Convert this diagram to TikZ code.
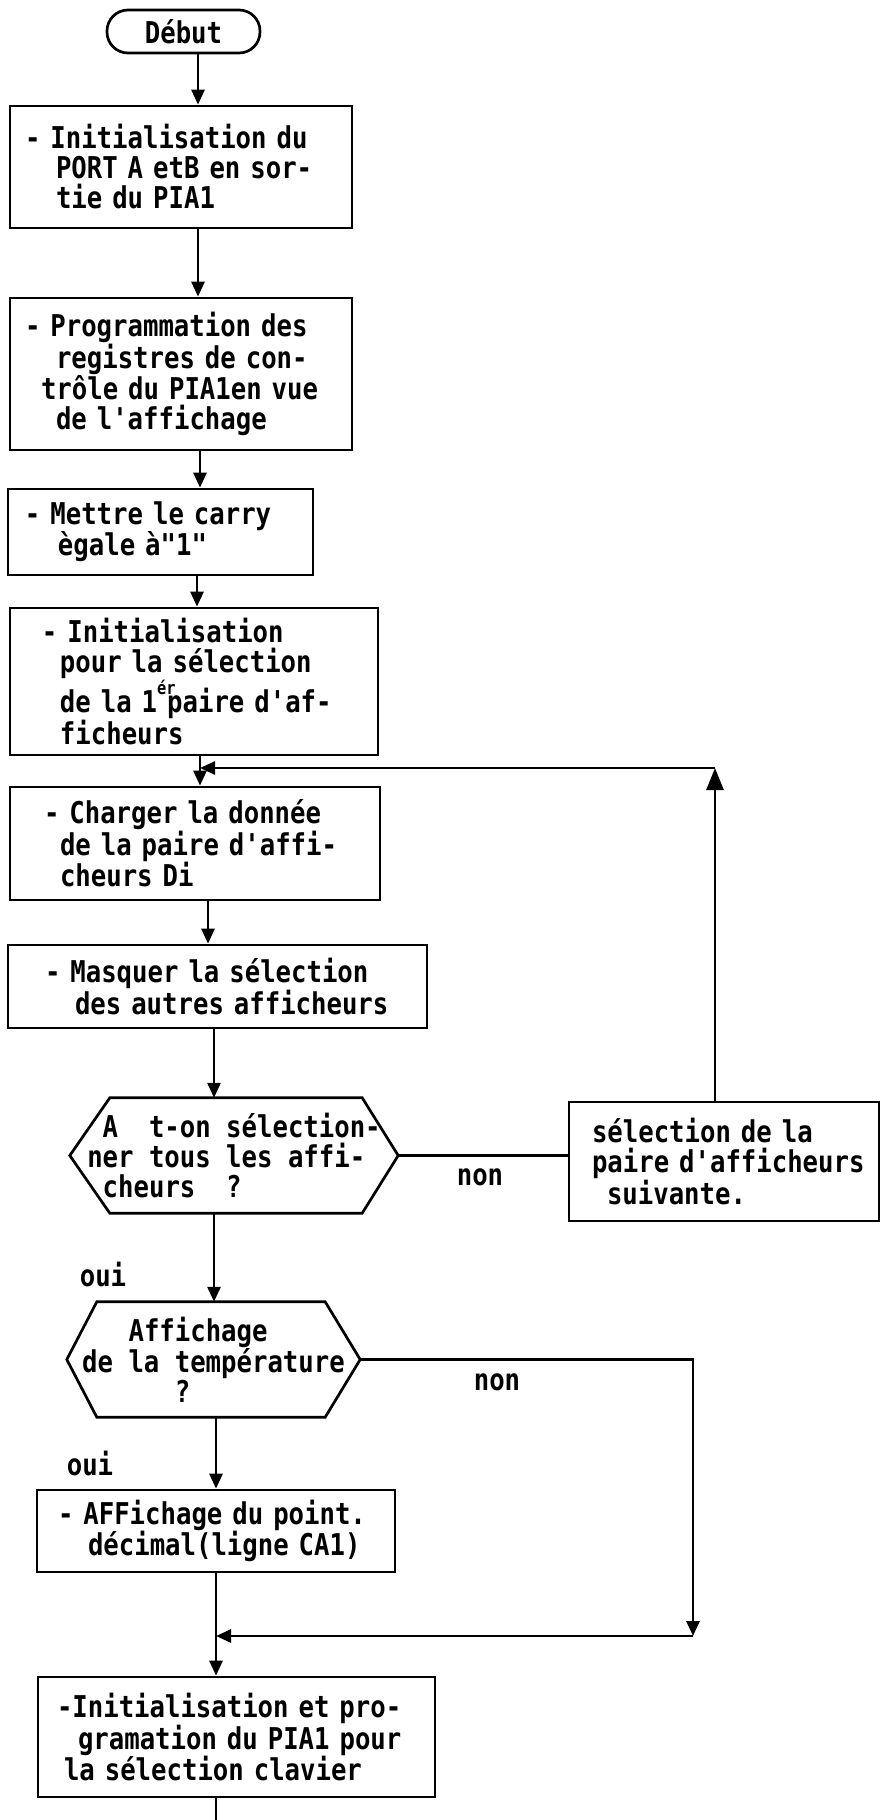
\documentclass[tikz,border=0pt]{standalone}
\usepackage{fontspec}
\setmonofont{DejaVu Sans Mono}[FakeStretch=0.855]
\usetikzlibrary{arrows.meta,calc}

% typewriter face used for every text of the chart; spaces are one full cell wide
\newcommand\typ{\ttfamily\bfseries\fontsize{30}{30}\selectfont
  \fontdimen2\font=15.44pt\fontdimen3\font=0pt\fontdimen4\font=0pt
  \spaceskip=15.44pt\relax\xspaceskip=15.44pt\relax}
% fixed left margin at the start of a line
\newcommand\lead[1]{\hspace*{#1pt}}
% raised ordinal suffix
\newcommand\ordsup[1]{\rlap{\raisebox{0.6em}{\fontsize{18}{18}\selectfont #1}}}

\begin{document}
\begin{tikzpicture}[x=1pt,y=-1pt,
  ink/.style={draw=black, line width=2.7pt},
  stepbox/.style={ink, rectangle, inner sep=0pt, align=left, font=\typ},
  terminal/.style={ink, rectangle, rounded corners=21pt, inner sep=0pt, font=\typ},
  hexnode/.style={rectangle, inner sep=0pt, align=left, font=\typ},
  lbl/.style={inner sep=0pt, font=\typ},
  arr/.style={ink, -{Triangle[width=13pt,length=15pt]}},
  arrbig/.style={ink, -{Triangle[width=17pt,length=22pt]}}
]
\fill[white] (0,0) rectangle (882,1820);
\useasboundingbox (0,0) rectangle (882,1820);

% ---- flow columns ----
\coordinate (c1) at (198,0);
\coordinate (c2) at (200,0);
\coordinate (c3) at (197,0);
\coordinate (c5) at (208,0);
\coordinate (c6) at (214,0);
\coordinate (c7) at (216,0);

% ---- nodes ----
\node[terminal, minimum width=153pt, minimum height=43pt] (debut) at (183.5,31.5) {Début};

\node[stepbox, minimum width=342pt, text width=342pt, minimum height=122pt] (b1) at (181,167)
  {\lead{15}- Initialisation du\\
   \lead{46}PORT A etB en sor-\\
   \lead{46}tie du PIA1};

\node[stepbox, minimum width=342pt, text width=342pt, minimum height=152pt] (b2) at (181,374)
  {\lead{15}- Programmation des\\
   \lead{46}registres de con-\\
   \lead{31}trôle du PIA1en vue\\
   \lead{46}de l'affichage};

\node[stepbox, minimum width=305pt, text width=305pt, minimum height=86pt] (b3) at (160.5,532)
  {\lead{17}- Mettre le carry\\
   \lead{50}ègale à"1"};

\node[stepbox, minimum width=368pt, text width=368pt, minimum height=147pt] (b4) at (194,681.5)
  {\lead{32}- Initialisation\\
   \lead{50}pour la sélection\\
   \lead{50}de la 1\ordsup{ér}~paire d'af-\\
   \lead{50}ficheurs};

\node[stepbox, minimum width=370pt, text width=370pt, minimum height=113pt] (b5) at (195,843.5)
  {\lead{34}- Charger la donnée\\
   \lead{50}de la paire d'affi-\\
   \lead{50}cheurs Di};

\node[stepbox, minimum width=419pt, text width=419pt, minimum height=83pt] (b6) at (217.5,986.5)
  {\lead{37}- Masquer la sélection\\
   \lead{67}des autres afficheurs};

\node[hexnode, minimum width=328pt, minimum height=115pt] (h1) at (234,1155.5)
  {\hphantom{x}A~~t-on sélection-\\
   ner tous les affi-\\
   \hphantom{x}cheurs~~?};
\draw[ink] (h1.west) -- ([xshift=40pt]h1.north west) -- ([xshift=-36pt]h1.north east)
  -- (h1.east) -- ([xshift=-36pt]h1.south east) -- ([xshift=40pt]h1.south west) -- cycle;

\node[stepbox, minimum width=310pt, text width=310pt, minimum height=119pt] (sel) at (724,1161.5)
  {\lead{23}sélection de la\\
   \lead{23}paire d'afficheurs\\
   \lead{38}suivante.};

\node[hexnode, minimum width=293pt, minimum height=115pt] (h2) at (213.5,1359.5)
  {\hphantom{xxx}Affichage\\
   de la température\\
   \hphantom{xxxxxx}?};
\draw[ink] (h2.west) -- ([xshift=30pt]h2.north west) -- ([xshift=-35pt]h2.north east)
  -- (h2.east) -- ([xshift=-35pt]h2.south east) -- ([xshift=30pt]h2.south west) -- cycle;

\node[stepbox, minimum width=358pt, text width=358pt, minimum height=82pt] (b7) at (216,1531)
  {\lead{21}- AFFichage du point.\\
   \lead{51}décimal(ligne CA1)};

\node[stepbox, minimum width=397pt, text width=397pt, minimum height=120pt] (b8) at (236.5,1737)
  {\lead{19}-Initialisation et pro-\\
   \lead{40}gramation du PIA1 pour\\
   \lead{26}la sélection clavier};

% ---- labels ----
\node[lbl] (non1) at (480,1177) {non};
\node[lbl] (oui1) at (103,1275) {oui};
\node[lbl] (non2) at (497,1382) {non};
\node[lbl] (oui2) at (90,1463) {oui};

% ---- main flow ----
\draw[arr] (debut.south -| c1) -- (b1.north -| c1);
\draw[arr] (b1.south -| c1) -- (b2.north -| c1);
\draw[arr] (b2.south -| c2) -- (b3.north -| c2);
\draw[arr] (b3.south -| c3) -- (b4.north -| c3);
\draw[arr] (b4.south -| c2) -- (b5.north -| c2);
\draw[arr] (b5.south -| c5) -- (b6.north -| c5);
\draw[arr] (b6.south -| c6) -- (h1.north -| c6);
\draw[arr] (h1.south -| c6) -- (h2.north -| c6);
\draw[arr] (h2.south -| c7) -- (b7.north -| c7);
\draw[arr] (b7.south -| c7) -- (b8.north -| c7);
\coordinate (tail) at (216,1820);
\draw[ink] (b8.south -| c7) -- (tail);

% ---- loop back to the next pair of displays ----
\coordinate (r1) at (715,768);
\coordinate (j1) at (200,768);
\draw[ink] (h1.east) -- (h1.east -| sel.west);
\draw[arrbig] (sel.north -| r1) -- (r1);
\draw[arr] (r1) -- (j1);

% ---- bypass of the decimal point ----
\coordinate (r2) at (693,1636);
\coordinate (j2) at (216,1636);
\draw[arr] (h2.east) -| (r2);
\draw[arr] (r2) -- (j2);
\end{tikzpicture}
\end{document}
